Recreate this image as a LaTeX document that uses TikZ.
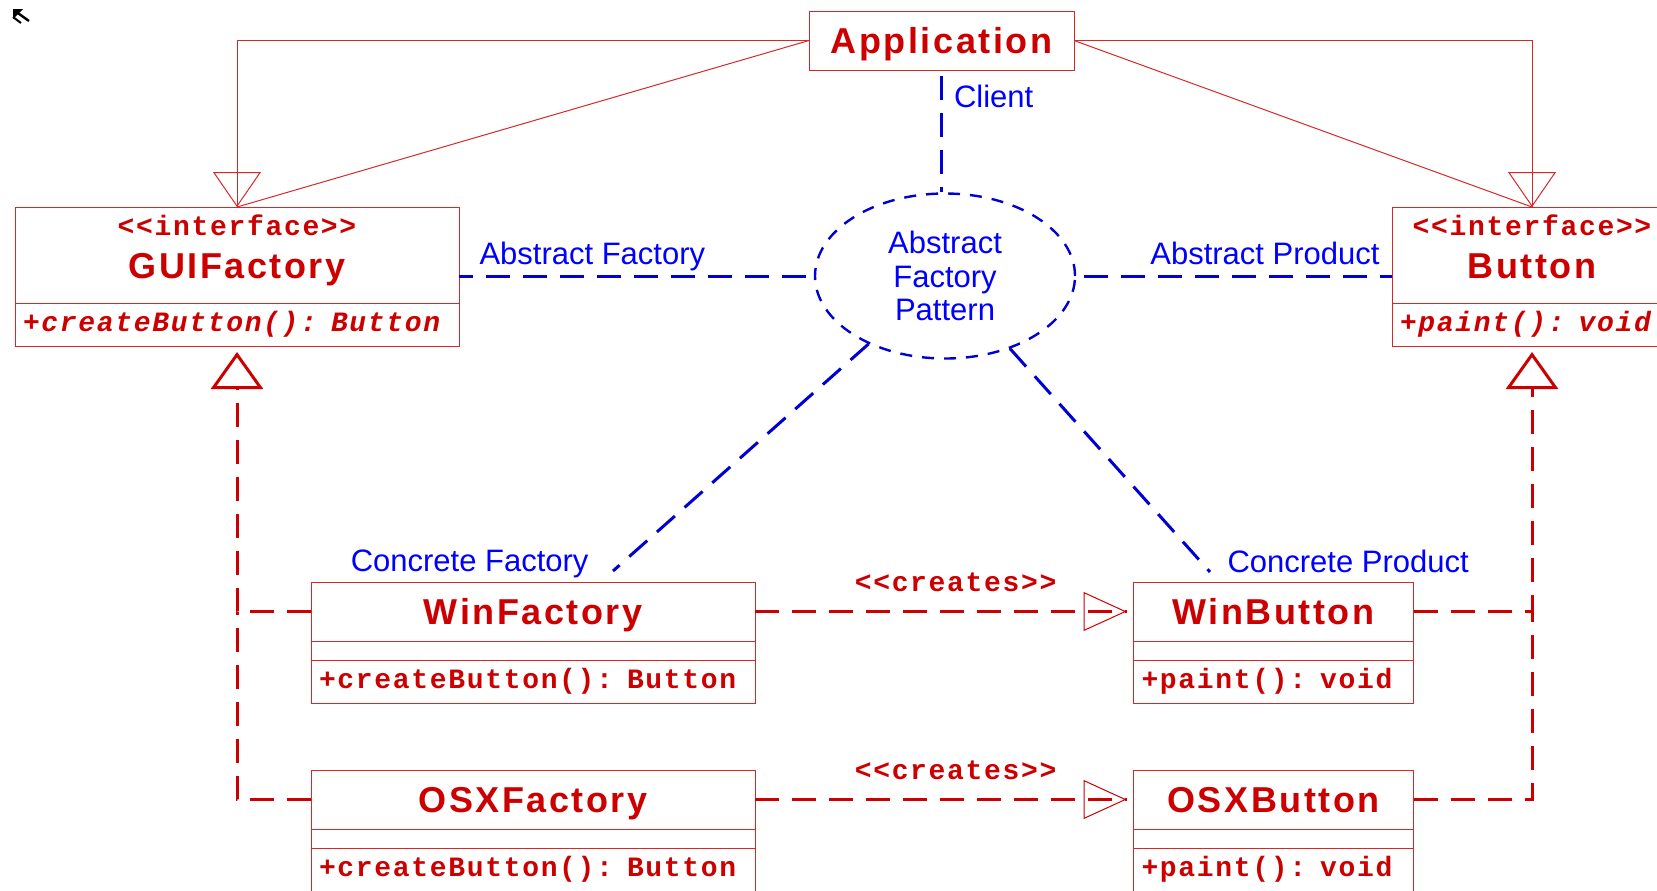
\documentclass[tikz,border=0pt]{standalone}
\usepackage{fontspec}
\setmainfont{Liberation Sans}
\newfontfamily\titlefont[LetterSpace=7]{Liberation Sans}
\newfontfamily\codefont[LetterSpace=6,Ligatures=TeXOff]{Liberation Mono}
\newcommand\stereofont{\codefont\bfseries\fontsize{14}{16}\selectfont}
\usepackage{tikz}
\usetikzlibrary{shapes.geometric,arrows.meta,positioning,decorations.markings}

\definecolor{umlred}{RGB}{204,0,0}
\definecolor{umlline}{RGB}{215,40,40}
\definecolor{patblue}{RGB}{0,0,255}
\definecolor{patline}{RGB}{0,0,210}

\begin{document}
\begin{tikzpicture}[
		x = .5pt, y = -.5pt,
		node distance = 0pt,
		umlbox/.style = {draw = umlline, line width = .5pt, outer sep = 0pt, inner sep = 0pt, text = umlred},
		clsname/.style = {umlbox, minimum width = #1, minimum height = 29.5pt, text height = 17pt, text depth = 4pt,
			font = \titlefont\bfseries\fontsize{18}{19}\selectfont},
		ifname/.style = {umlbox, minimum width = #1, minimum height = 48pt, align = center,
			font = \titlefont\bfseries\fontsize{18}{19}\selectfont},
		clsattr/.style = {umlbox, minimum width = #1, minimum height = 9.5pt},
		clsop/.style = {umlbox, inner xsep = 4pt, text width = #1, minimum height = 21.5pt, align = left,
			font = \codefont\bfseries\fontsize{14}{16}\selectfont},
		afpattern/.style = {ellipse, draw = patline, line width = 1.2pt, dash pattern = on 6pt off 5pt,
			minimum width = 130pt, minimum height = 82.5pt, inner sep = 0pt, align = center, text = patblue,
			font = \fontsize{15.5}{16.75}\selectfont},
		patlink/.style = {draw = patline, line width = 1.5pt, dash pattern = on 12pt off 6.5pt},
		patlabel/.style = {text = patblue, inner sep = 1pt, font = \fontsize{15.5}{18}\selectfont},
		assoc/.style = {draw = umlline, line width = .5pt},
		inherit/.style = {assoc, postaction = {decorate, decoration = {markings,
			mark = at position 1 with {\arrow{Triangle[open, length = 17.5pt, width = 24pt]}}}}},
		realline/.style = {draw = umlred, line width = 1.5pt, dash pattern = on 12pt off 6.5pt},
		realize/.style = {realline, -{Triangle[open, length = 18.5pt, width = 26pt]}, shorten > = 3pt},
		creates/.style = {realline, shorten > = 3.5pt, postaction = {decorate, decoration = {markings,
			mark = at position -3.5pt with {\arrow{Triangle[open, line width = .5pt, length = 21.5pt, width = 19.5pt]}}}}},
		createlbl/.style = {text = umlred, inner sep = 1pt, font = \stereofont}
	]

	\clip (0,0) rectangle (1657,890);
	\useasboundingbox (0,0) rectangle (1657,890);

	% cursor mark in the corner
	\fill (13,9) -- (23,9) -- (13,19) -- cycle;
	\draw[line width = 1.2pt] (15,11) -- (29,21);
	\draw[line width = 1pt] (13,17) -- (21,23);

	% client and interfaces
	\node[clsname = 132.5pt, anchor = north] (app) at (941.5,11) {Application};

	\node[ifname = 222pt, anchor = north] (guif) at (237,207)
		{{\stereofont\rule{0pt}{11pt}<<interface>>}\\[2.5pt]GUIFactory\rule[-9.5pt]{0pt}{9.5pt}};
	\node[clsop = 214pt, below = of guif] (guif-op) {\itshape +createButton(): Button};

	\node[ifname = 140pt, anchor = north] (btn) at (1532,207)
		{{\stereofont\rule{0pt}{11pt}<<interface>>}\\[2.5pt]Button\rule[-9.5pt]{0pt}{9.5pt}};
	\node[clsop = 132pt, below = of btn] (btn-op) {\itshape +paint(): void};

	% concrete classes
	\node[clsname = 222pt, anchor = north] (winf) at (533,582) {WinFactory};
	\node[clsattr = 222pt, below = of winf] (winf-at) {};
	\node[clsop = 214pt, below = of winf-at] (winf-op) {+createButton(): Button};

	\node[clsname = 222pt, anchor = north] (osxf) at (533,770) {OSXFactory};
	\node[clsattr = 222pt, below = of osxf] (osxf-at) {};
	\node[clsop = 214pt, below = of osxf-at] (osxf-op) {+createButton(): Button};

	\node[clsname = 140pt, anchor = north] (winb) at (1273.5,582) {WinButton};
	\node[clsattr = 140pt, below = of winb] (winb-at) {};
	\node[clsop = 132pt, below = of winb-at] (winb-op) {+paint(): void};

	\node[clsname = 140pt, anchor = north] (osxb) at (1273.5,770) {OSXButton};
	\node[clsattr = 140pt, below = of osxb] (osxb-at) {};
	\node[clsop = 132pt, below = of osxb-at] (osxb-op) {+paint(): void};

	% the pattern and its roles
	\node[afpattern] (patt) at (945,276) {Abstract\\Factory\\Pattern};

	\coordinate (cfend) at (613,571);
	\coordinate (cpend) at (1210,572);

	\draw[patlink, shorten < = 3pt] (app.south) -- (app.south |- patt.north)
		node[patlabel, pos = .22, right = 4.5pt] (lbl-client) {Client};
	\draw[patlink, shorten < = 4pt] (patt) -- (patt -| guif.east)
		node[patlabel, anchor = base west, xshift = 8.5pt, yshift = 5.75pt] (lbl-af) {Abstract Factory};
	\draw[patlink, shorten < = 4pt] (patt) -- (patt -| btn.west)
		node[patlabel, anchor = base east, xshift = -4.5pt, yshift = 5.75pt] (lbl-ap) {Abstract Product};
	\draw[patlink] (patt) -- (cfend)
		node[patlabel, anchor = base east, xshift = -10.5pt] (lbl-cf) {Concrete Factory};
	\draw[patlink] (patt) -- (cpend)
		node[patlabel, anchor = base west, xshift = 7pt] (lbl-cp) {Concrete Product};

	% generalization from the client
	\draw[inherit] (app.west) -| (guif.north);
	\draw[assoc] (app.west) -- (guif.north);
	\draw[inherit] (app.east) -| (btn.north);
	\draw[assoc] (app.east) -- (btn.north);

	% realizations
	\coordinate (fjoin) at (winf.west -| guif-op.south);
	\coordinate (bjoin) at (winb.east -| btn-op.south);
	\draw[realize] (winf.west) -| (guif-op.south);
	\draw[realline] (osxf.west) -| (fjoin);
	\draw[realize] (winb.east) -| (btn-op.south);
	\draw[realline] (osxb.east) -| (bjoin);

	% factories create products
	\draw[creates] (winf.east) -- (winb.west) node[createlbl, pos = .53, above = 8pt] (cr-win) {<<creates>>};
	\draw[creates] (osxf.east) -- (osxb.west) node[createlbl, pos = .53, above = 8pt] (cr-osx) {<<creates>>};

\end{tikzpicture}
\end{document}
